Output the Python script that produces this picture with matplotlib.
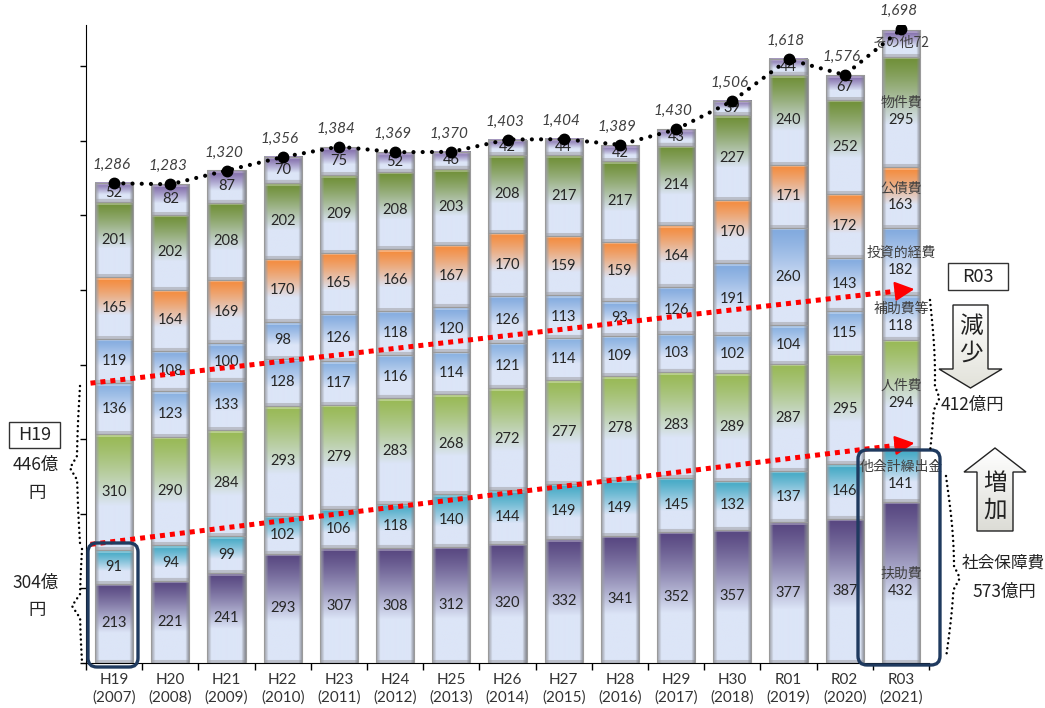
import numpy as np
import matplotlib
matplotlib.use('Agg')
import matplotlib.pyplot as plt
from matplotlib.colors import to_rgb
from matplotlib.patches import FancyBboxPatch, Polygon, Rectangle

plt.rcParams['font.family'] = ['Noto Sans CJK JP', 'DejaVu Sans']

# ---------------- data ----------------
years = ['H19', 'H20', 'H21', 'H22', 'H23', 'H24', 'H25', 'H26', 'H27', 'H28',
         'H29', 'H30', 'R01', 'R02', 'R03']
western = ['2007', '2008', '2009', '2010', '2011', '2012', '2013', '2014', '2015',
           '2016', '2017', '2018', '2019', '2020', '2021']
categories = ['扶助費', '他会計繰出金', '人件費', '補助費等', '投資的経費', '公債費', '物件費', 'その他']
fujo = [213, 221, 241, 293, 307, 308, 312, 320, 332, 341, 352, 357, 377, 387, 432]
takaikei = [91, 94, 99, 102, 106, 118, 140, 144, 149, 149, 145, 132, 137, 146, 141]
jinken = [310, 290, 284, 293, 279, 283, 268, 272, 277, 278, 283, 289, 287, 295, 294]
hojo = [136, 123, 133, 128, 117, 116, 114, 121, 114, 109, 103, 102, 104, 115, 118]
toushi = [119, 108, 100, 98, 126, 118, 120, 126, 113, 93, 126, 191, 260, 143, 182]
kousai = [165, 164, 169, 170, 165, 166, 167, 170, 159, 159, 164, 170, 171, 172, 163]
bukken = [201, 202, 208, 202, 209, 208, 203, 208, 217, 217, 214, 227, 240, 252, 295]
sonota = [52, 82, 87, 70, 75, 52, 46, 42, 44, 42, 43, 39, 44, 67, 72]
totals = [1286, 1283, 1320, 1356, 1384, 1369, 1370, 1403, 1404, 1389, 1430, 1506, 1618, 1576, 1698]

series = [fujo, takaikei, jinken, hojo, toushi, kousai, bukken, sonota]
colors = ['#574680', '#40a8c4', '#98b954', '#86afe0', '#80a9de', '#f58a3a', '#6f8f36', '#7d66a6']

# ---------------- figure ----------------
W, H = 1045, 708
fig = plt.figure(figsize=(W / 100, H / 100), dpi=100)
ax = fig.add_axes([86 / W, 1 - 663 / H, (929 - 86) / W, (663 - 25) / H])
ax.set_xlim(-0.5, len(years) - 0.5)
ax.set_ylim(0, 1710)
for s in ['top', 'right']:
    ax.spines[s].set_visible(False)
ax.spines['left'].set_color('black')
ax.spines['bottom'].set_color('black')
ax.set_yticks(np.arange(0, 1601, 200))
ax.set_yticklabels([])
ax.tick_params(axis='y', direction='out', length=4, width=1)
x = np.arange(len(years))
ax.set_xticks(np.arange(-0.5, len(years), 1.0))
ax.set_xticklabels([])
ax.tick_params(axis='x', which='major', direction='out', length=5, width=1)
ax.set_xticks(x, minor=True)
ax.set_xticklabels([f'{y}\n({w})' for y, w in zip(years, western)], minor=True,
                   fontsize=11, color='#333333', linespacing=1.3,
                   family=['Lato', 'Noto Sans CJK JP', 'DejaVu Sans'])
ax.tick_params(axis='x', which='minor', length=0, pad=7)

white = np.array([1.0, 1.0, 1.0])
light = np.array(to_rgb('#dce5f7'))
gray_l = np.array(to_rgb('#9c9ea5'))
gray_r = np.array(to_rgb('#85878e'))
gray_b = np.array(to_rgb('#aeb0b8'))


def seg_image(color, hpx, wpx):
    ny = max(int(round(hpx)), 4)
    nx = max(int(round(wpx)), 8)
    c = np.array(to_rgb(color))
    t = (np.arange(ny) + 0.5) / ny
    w = np.clip(t / 0.62, 0, 1) ** 1.25
    col = c[None, :] * (1 - w[:, None]) + light[None, :] * w[:, None]
    img = np.repeat(col[:, None, :], nx, axis=1)
    b = max(1, min(3, ny // 5))
    tint = c * 0.55 + white * 0.45
    img[:b] = img[:b] * 0.3 + tint * 0.7
    img[-b:] = img[-b:] * 0.3 + gray_b * 0.7
    for k, f in enumerate([0.9, 0.72, 0.5, 0.25]):
        img[:, k] = img[:, k] * (1 - f) + gray_l * f
        img[:, -1 - k] = img[:, -1 - k] * (1 - f) + gray_r * f
    return np.clip(img, 0, 1)


width = 0.68
bottom = np.zeros(len(years))
all_bars = []
for vals, col in zip(series, colors):
    bars = ax.bar(x, vals, width, bottom=bottom, color='none', edgecolor='#9a9a9a',
                  linewidth=0.8, zorder=3)
    all_bars.append(bars)
    for p in bars:
        x0, y0, bw, bh = p.get_x(), p.get_y(), p.get_width(), p.get_height()
        (px0, py0), (px1, py1) = ax.transData.transform([(x0, y0), (x0 + bw, y0 + bh)])
        img = seg_image(col, py1 - py0, px1 - px0)
        ax.imshow(img, extent=(x0, x0 + bw, y0, y0 + bh), origin='upper',
                  aspect='auto', interpolation='bilinear', zorder=2)
    bottom = bottom + np.array(vals)

ax.set_xlim(-0.5, len(years) - 0.5)
ax.set_ylim(0, 1710)

# segment labels
num_font = ['Lato', 'Noto Sans CJK JP', 'DejaVu Sans']
last = len(years) - 1
for ci, (bars, vals) in enumerate(zip(all_bars, series)):
    for i, (p, v) in enumerate(zip(bars, vals)):
        cy = p.get_y() + p.get_height() / 2
        if i == last:
            if ci == len(series) - 1:
                ax.text(i, cy, f'{categories[ci]}{v}', ha='center', va='center', fontsize=10,
                        color='#404040', zorder=6)
            else:
                ax.text(i, cy + 23, categories[ci], ha='center', va='center', fontsize=10,
                        color='#404040', zorder=6)
                ax.text(i, cy - 22, f'{v}', ha='center', va='center', fontsize=10.5,
                        color='#262626', family=num_font, zorder=6)
        else:
            ax.text(i, cy, f'{v}', ha='center', va='center', fontsize=10.5,
                    color='#262626', family=num_font, zorder=6)

# totals line
ax.plot(x, totals, color='black', lw=3.0, linestyle=(0, (0.01, 2.2)),
        dash_capstyle='round', zorder=7)
ax.plot(x, totals, 'o', color='black', markersize=7.5, zorder=8)
for i, t in enumerate(totals):
    ax.annotate(f'{t:,}', (i, t), xytext=(-2, 8), textcoords='offset points',
                ha='center', va='bottom', fontsize=11, style='italic',
                color='#404040', family=num_font, annotation_clip=False, zorder=8)

# red dotted arrows (data coordinates)
for (xa, ya, xb, yb) in [(-0.42, 750, 14.0, 998), (-0.42, 318, 14.0, 585)]:
    ax.plot([xa, xb], [ya, yb], color='#ff0000', lw=3.6, linestyle=(0, (1, 1)),
            solid_capstyle='butt', zorder=9)
    dx, dy = xb - xa, yb - ya
    ax.annotate('', xy=(xb + 0.02 * dx, yb + 0.02 * dy),
                xytext=(xb - 0.01 * dx, yb - 0.01 * dy),
                arrowprops=dict(arrowstyle='-|>,head_length=1.2,head_width=0.6',
                                color='#ff0000', lw=1.5), zorder=9)

# ---------------- overlay annotations (pixel coords) ----------------
ov = fig.add_axes([0, 0, 1, 1], zorder=5)
ov.set_xlim(0, W)
ov.set_ylim(H, 0)
ov.axis('off')
ov.patch.set_alpha(0)

navy = '#1f3a5f'
for (xa, ya, xb, yb) in [(88, 543, 138, 667), (858, 450, 940, 665)]:
    ov.add_patch(FancyBboxPatch((xa, ya), xb - xa, yb - ya,
                                boxstyle='round,pad=0,rounding_size=9',
                                fc='none', ec=navy, lw=2.4))

# boxes
ov.add_patch(Rectangle((9, 422), 51, 26, fc='white', ec='#333333', lw=1))
ov.text(34.5, 435, 'H19', ha='center', va='center', fontsize=13, color='#222222')
ov.add_patch(Rectangle((948, 263), 60, 27, fc='white', ec='#333333', lw=1))
ov.text(978, 276.5, 'R03', ha='center', va='center', fontsize=13, color='#222222')

ov.text(36, 465, '446億', ha='center', va='center', fontsize=12.5, color='#222222')
ov.text(37, 493, '円', ha='center', va='center', fontsize=12.5, color='#222222')
ov.text(36, 583, '304億', ha='center', va='center', fontsize=12.5, color='#222222')
ov.text(37, 610, '円', ha='center', va='center', fontsize=12.5, color='#222222')
ov.text(972, 405, '412億円', ha='center', va='center', fontsize=12.5, color='#222222')
ov.text(1003, 563, '社会保障費', ha='center', va='center', fontsize=12, color='#222222')
ov.text(1004, 592, '573億円', ha='center', va='center', fontsize=12.5, color='#222222')


def block_arrow(pts, top_col, bot_col):
    poly = Polygon(pts, closed=True, fc='none', ec='#222222', lw=1.0, zorder=3)
    ov.add_patch(poly)
    xs = [p[0] for p in pts]
    ys = [p[1] for p in pts]
    grad = np.linspace(0, 1, 60)[:, None]
    a, b = np.array(to_rgb(top_col)), np.array(to_rgb(bot_col))
    img = a[None, None, :] * (1 - grad[:, :, None]) + b[None, None, :] * grad[:, :, None]
    img = np.repeat(img, 4, axis=1)
    im = ov.imshow(img, extent=(min(xs), max(xs), max(ys), min(ys)), origin='upper',
                   aspect='auto', zorder=2)
    im.set_clip_path(poly)


block_arrow([(953, 305), (988, 305), (988, 369), (1002, 369), (970.5, 388),
             (939, 369), (953, 369)], '#ffffff', '#e2e2da')
ov.text(970.5, 326, '減', ha='center', va='center', fontsize=17, color='#222222', zorder=4)
ov.text(970.5, 353, '少', ha='center', va='center', fontsize=17, color='#222222', zorder=4)
block_arrow([(995, 448), (1026, 472), (1013, 472), (1013, 531), (977, 531),
             (977, 472), (964, 472)], '#ffffff', '#dcdcd6')
ov.text(995, 483, '増', ha='center', va='center', fontsize=17, color='#222222', zorder=4)
ov.text(995, 510, '加', ha='center', va='center', fontsize=17, color='#222222', zorder=4)


def brace(x0, y0, y1, ytip, depth, bulge=0.0, wtip=12):
    ys = np.linspace(y0, y1, 300)
    t = (ys - y0) / (y1 - y0)
    tent = np.clip(1 - np.abs(ys - ytip) / wtip, 0, 1)
    xs = x0 + depth * tent + bulge * np.sin(np.pi * t)
    ov.plot(xs, ys, color='black', lw=1.8, linestyle=(0, (0.01, 2.0)),
            dash_capstyle='round', zorder=4)


brace(80, 386, 543, 468, -7, bulge=-3)
brace(82, 549, 662, 606, -8, bulge=-2)
brace(930, 300, 452, 398, 5, bulge=5)
brace(946, 476, 658, 578, 6, bulge=8)

fig.savefig('out.png', dpi=100)
